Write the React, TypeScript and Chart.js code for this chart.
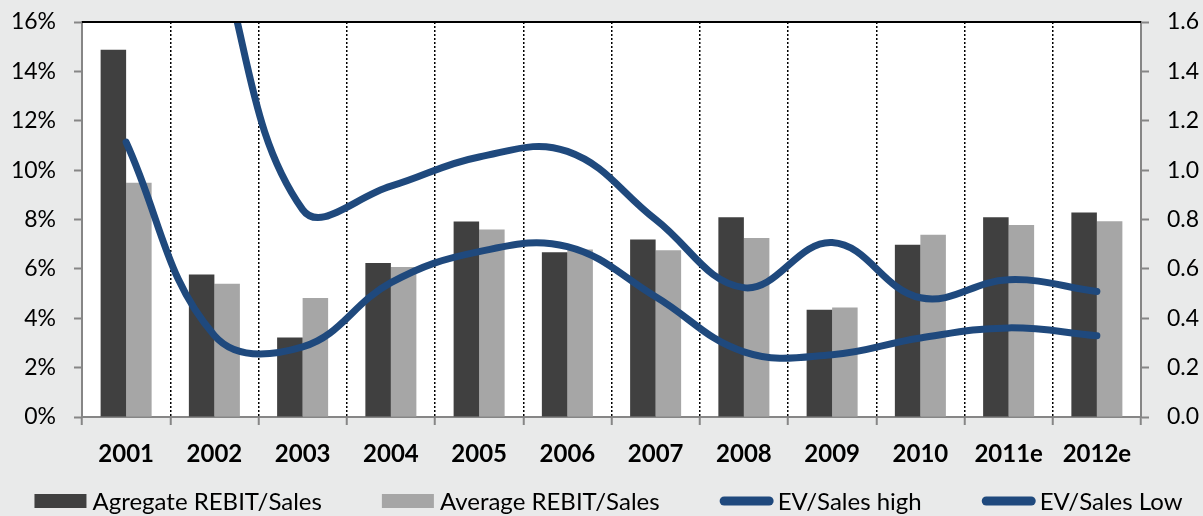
import React, { useEffect, useRef } from "react";
import { Chart, registerables } from "chart.js";

Chart.register(...registerables);

const categories = ["2001", "2002", "2003", "2004", "2005", "2006", "2007", "2008", "2009", "2010", "2011e", "2012e"];
const aggregateRebitSales = [14.88, 5.77, 3.22, 6.24, 7.92, 6.67, 7.19, 8.09, 4.34, 6.98, 8.09, 8.28];
const averageRebitSales = [9.49, 5.4, 4.82, 6.08, 7.59, 6.78, 6.75, 7.25, 4.44, 7.38, 7.78, 7.93];
const evSalesHigh = [null, 1.95, 0.84, 0.935, 1.053, 1.076, 0.8, 0.524, 0.707, 0.483, 0.556, 0.508];
const evSalesLow = [1.113, 0.33, 0.284, 0.544, 0.67, 0.69, 0.487, 0.264, 0.252, 0.32, 0.361, 0.329];
const leftMax = 16;
const leftStep = 2;
const rightMax = 1.6;
const rightStep = 0.2;

const BG = "#e9eaea";
const AXIS = "#868686";
const DARK = "#404040";
const LIGHT = "#a6a6a6";
const BLUE = "#1f497d";
const FONT = "Lato";

const backgroundPlugin = {
  id: "bgPlugin",
  beforeDraw(chart: any) {
    const { ctx, chartArea: ca } = chart;
    ctx.save();
    ctx.fillStyle = BG;
    ctx.fillRect(0, 0, chart.width, chart.height);
    ctx.fillStyle = "#ffffff";
    ctx.fillRect(ca.left, ca.top, ca.right - ca.left, ca.bottom - ca.top);
    ctx.restore();
  },
  afterDraw(chart: any) {
    const { ctx, chartArea: ca } = chart;
    ctx.save();
    ctx.strokeStyle = "#000000";
    ctx.lineWidth = 2;
    ctx.beginPath();
    ctx.moveTo(ca.left, ca.top);
    ctx.lineTo(ca.right, ca.top);
    ctx.stroke();
    ctx.restore();
  },
};

const legendPlugin = {
  id: "customLegend",
  afterDraw(chart: any) {
    const { ctx, chartArea: ca } = chart;
    const items = chart.data.datasets.map((ds: any) => ({
      label: ds.label,
      isLine: ds.type === "line",
      color: ds.type === "line" ? ds.borderColor : ds.backgroundColor,
    }));
    ctx.save();
    ctx.font = `24px ${FONT}`;
    ctx.textBaseline = "middle";
    ctx.textAlign = "left";
    const symW = 54;
    const gapText = 4;
    const gapItem = 60;
    const widths = items.map((it: any) => symW + gapText + ctx.measureText(it.label).width);
    const total = widths.reduce((a: number, b: number) => a + b, 0) + gapItem * (items.length - 1);
    let x = (ca.left + ca.right) / 2 - 3 - total / 2;
    const y = chart.height - 15;
    items.forEach((it: any, i: number) => {
      if (it.isLine) {
        ctx.strokeStyle = it.color;
        ctx.lineWidth = 9;
        ctx.lineCap = "round";
        ctx.beginPath();
        ctx.moveTo(x + 4.5, y);
        ctx.lineTo(x + symW - 4.5, y);
        ctx.stroke();
      } else {
        ctx.fillStyle = it.color;
        ctx.fillRect(x, y - 7, symW - 2, 14);
      }
      ctx.fillStyle = "#000000";
      ctx.fillText(it.label, x + symW + gapText, y + 1);
      x += widths[i] + gapItem;
    });
    ctx.restore();
  },
};

export default function App() {
  const canvasRef = useRef<HTMLCanvasElement | null>(null);

  useEffect(() => {
    document.body.style.margin = "0";
    document.body.style.background = BG;
    const canvas = canvasRef.current;
    if (!canvas) return;

    const chart = new Chart(canvas, {
      type: "bar",
      data: {
        labels: categories,
        datasets: [
          {
            type: "bar",
            label: "Agregate REBIT/Sales",
            data: aggregateRebitSales,
            backgroundColor: DARK,
            yAxisID: "y",
            order: 2,
            categoryPercentage: 0.578,
            barPercentage: 1,
          },
          {
            type: "bar",
            label: "Average REBIT/Sales",
            data: averageRebitSales,
            backgroundColor: LIGHT,
            yAxisID: "y",
            order: 2,
            categoryPercentage: 0.578,
            barPercentage: 1,
          },
          {
            type: "line",
            label: "EV/Sales high",
            data: evSalesHigh,
            borderColor: BLUE,
            backgroundColor: BLUE,
            borderWidth: 7,
            pointRadius: 0,
            tension: 0.4,
            borderCapStyle: "round",
            borderJoinStyle: "round",
            yAxisID: "y1",
            order: 1,
            clip: 0,
          } as any,
          {
            type: "line",
            label: "EV/Sales Low",
            data: evSalesLow,
            borderColor: BLUE,
            backgroundColor: BLUE,
            borderWidth: 7,
            pointRadius: 0,
            tension: 0.4,
            borderCapStyle: "round",
            borderJoinStyle: "round",
            yAxisID: "y1",
            order: 1,
            clip: 0,
          } as any,
        ],
      },
      options: {
        responsive: false,
        animation: false,
        devicePixelRatio: 1,
        layout: { padding: { top: 22, bottom: 39, left: 0, right: 0 } },
        plugins: {
          legend: { display: false },
          tooltip: { enabled: false },
        },
        scales: {
          x: {
            offset: true,
            grid: {
              offset: true,
              color: (c: any) => (c.type === "tick" && c.index > 0 ? "#000000" : "rgba(0,0,0,0)"),
              lineWidth: 1.5,
              drawTicks: true,
              tickLength: 8,
              tickColor: AXIS,
              tickWidth: 2,
            },
            border: { display: true, color: AXIS, width: 2, dash: [2, 2] },
            ticks: {
              color: "#000000",
              font: { family: FONT, size: 24, weight: "bold" },
              padding: 15,
              maxRotation: 0,
              autoSkip: false,
            },
            afterFit(scale: any) {
              scale.height = 60;
              scale.paddingLeft = 0;
              scale.paddingRight = 0;
            },
          },
          y: {
            position: "left",
            min: 0,
            max: leftMax,
            grid: {
              drawOnChartArea: false,
              drawTicks: true,
              tickLength: 8,
              tickColor: AXIS,
              tickWidth: 2,
            },
            border: { display: true, color: AXIS, width: 2 },
            ticks: {
              stepSize: leftStep,
              color: "#000000",
              font: { family: FONT, size: 23 },
              padding: 18,
              callback: (v: any) => `${v}%`,
            },
            afterFit(scale: any) {
              scale.width = 82;
              scale.paddingTop = 0;
              scale.paddingBottom = 0;
            },
          },
          y1: {
            position: "right",
            min: 0,
            max: rightMax,
            grid: {
              drawOnChartArea: false,
              drawTicks: true,
              tickLength: 8,
              tickColor: AXIS,
              tickWidth: 2,
            },
            border: { display: true, color: AXIS, width: 2 },
            ticks: {
              stepSize: rightStep,
              color: "#000000",
              font: { family: FONT, size: 23 },
              padding: 18,
              callback: (v: any) => Number(v).toFixed(1),
            },
            afterFit(scale: any) {
              scale.width = 62;
              scale.paddingTop = 0;
              scale.paddingBottom = 0;
            },
          },
        },
      },
      plugins: [backgroundPlugin, legendPlugin],
    });

    return () => chart.destroy();
  }, []);

  return (
    <div style={{ width: 1203, height: 516, background: BG }}>
      <canvas ref={canvasRef} width={1203} height={516} style={{ display: "block", width: 1203, height: 516 }} />
    </div>
  );
}
